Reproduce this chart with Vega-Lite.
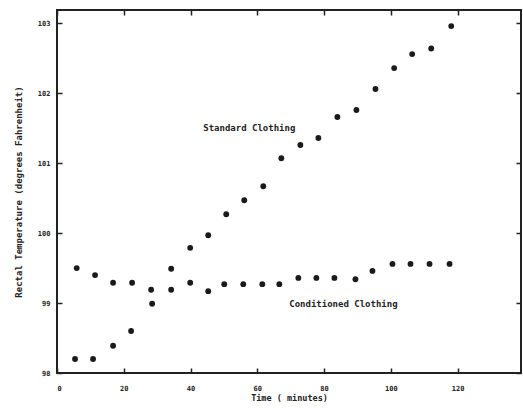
{
  "$schema": "https://vega.github.io/schema/vega-lite/v6.json",
  "width": 464,
  "height": 363,
  "autosize": {"type": "none"},
  "padding": {"left": 57, "top": 10, "right": 2, "bottom": 43},
  "background": "white",
  "config": {
    "view": {"stroke": "#222", "strokeWidth": 2},
    "axis": {"grid": false, "domain": false, "tickColor": "#222", "tickWidth": 1.5, "labelColor": "#222", "titleColor": "#222", "labelFont": "DejaVu Sans Mono", "titleFont": "DejaVu Sans Mono", "labelFontWeight": "bold", "titleFontWeight": "bold"}
  },
  "datasets": {
    "pts": [
      {"t": 5.4, "temp": 98.2, "group": "Standard Clothing"},
      {"t": 10.8, "temp": 98.2, "group": "Standard Clothing"},
      {"t": 16.8, "temp": 98.39, "group": "Standard Clothing"},
      {"t": 22.2, "temp": 98.6, "group": "Standard Clothing"},
      {"t": 28.5, "temp": 98.99, "group": "Standard Clothing"},
      {"t": 34.2, "temp": 99.49, "group": "Standard Clothing"},
      {"t": 39.9, "temp": 99.79, "group": "Standard Clothing"},
      {"t": 45.3, "temp": 99.97, "group": "Standard Clothing"},
      {"t": 50.7, "temp": 100.27, "group": "Standard Clothing"},
      {"t": 56.1, "temp": 100.47, "group": "Standard Clothing"},
      {"t": 61.8, "temp": 100.67, "group": "Standard Clothing"},
      {"t": 67.2, "temp": 101.07, "group": "Standard Clothing"},
      {"t": 72.9, "temp": 101.26, "group": "Standard Clothing"},
      {"t": 78.3, "temp": 101.36, "group": "Standard Clothing"},
      {"t": 84.0, "temp": 101.66, "group": "Standard Clothing"},
      {"t": 89.7, "temp": 101.76, "group": "Standard Clothing"},
      {"t": 95.4, "temp": 102.06, "group": "Standard Clothing"},
      {"t": 101.0, "temp": 102.36, "group": "Standard Clothing"},
      {"t": 106.4, "temp": 102.56, "group": "Standard Clothing"},
      {"t": 112.1, "temp": 102.64, "group": "Standard Clothing"},
      {"t": 118.1, "temp": 102.96, "group": "Standard Clothing"},
      {"t": 5.9, "temp": 99.5, "group": "Conditioned Clothing"},
      {"t": 11.4, "temp": 99.4, "group": "Conditioned Clothing"},
      {"t": 16.8, "temp": 99.29, "group": "Conditioned Clothing"},
      {"t": 22.5, "temp": 99.29, "group": "Conditioned Clothing"},
      {"t": 28.2, "temp": 99.19, "group": "Conditioned Clothing"},
      {"t": 34.2, "temp": 99.19, "group": "Conditioned Clothing"},
      {"t": 39.9, "temp": 99.29, "group": "Conditioned Clothing"},
      {"t": 45.3, "temp": 99.17, "group": "Conditioned Clothing"},
      {"t": 50.1, "temp": 99.27, "group": "Conditioned Clothing"},
      {"t": 55.8, "temp": 99.27, "group": "Conditioned Clothing"},
      {"t": 61.5, "temp": 99.27, "group": "Conditioned Clothing"},
      {"t": 66.6, "temp": 99.27, "group": "Conditioned Clothing"},
      {"t": 72.3, "temp": 99.36, "group": "Conditioned Clothing"},
      {"t": 77.7, "temp": 99.36, "group": "Conditioned Clothing"},
      {"t": 83.1, "temp": 99.36, "group": "Conditioned Clothing"},
      {"t": 89.4, "temp": 99.34, "group": "Conditioned Clothing"},
      {"t": 94.5, "temp": 99.46, "group": "Conditioned Clothing"},
      {"t": 100.5, "temp": 99.56, "group": "Conditioned Clothing"},
      {"t": 105.9, "temp": 99.56, "group": "Conditioned Clothing"},
      {"t": 111.6, "temp": 99.56, "group": "Conditioned Clothing"},
      {"t": 117.6, "temp": 99.56, "group": "Conditioned Clothing"}
    ],
    "labels": [
      {"t": 57.6, "temp": 101.5, "label": "Standard Clothing"},
      {"t": 85.8, "temp": 98.99, "label": "Conditioned Clothing"}
    ]
  },
  "layer": [
    {
      "data": {"name": "pts"},
      "mark": {"type": "circle", "size": 34, "color": "#1a1a1a", "opacity": 1},
      "encoding": {
        "x": {"field": "t", "type": "quantitative", "scale": {"domain": [0, 139], "nice": false, "zero": false},
          "axis": {"orient": "bottom", "title": "Time ( minutes)", "values": [0, 20, 40, 60, 80, 100, 120], "tickSize": -5, "labelPadding": 16, "labelFontSize": 7, "titleFontSize": 8.5, "titlePadding": 2}},
        "y": {"field": "temp", "type": "quantitative", "scale": {"domain": [98, 103.19], "nice": false, "zero": false},
          "axis": {"orient": "left", "title": "Rectal Temperature (degrees Fahrenheit)", "values": [98, 99, 100, 101, 102, 103], "tickSize": -5, "labelPadding": 12, "labelFontSize": 7, "titleFontSize": 9, "titlePadding": 14}}
      }
    },
    {
      "data": {"name": "pts"},
      "mark": {"type": "circle", "opacity": 0},
      "encoding": {
        "x": {"field": "t", "type": "quantitative", "axis": {"orient": "top", "title": null, "labels": false, "values": [0, 20, 40, 60, 80, 100, 120], "tickSize": -5}},
        "y": {"field": "temp", "type": "quantitative", "axis": {"orient": "right", "title": null, "labels": false, "values": [98, 99, 100, 101, 102, 103], "tickSize": -5}}
      }
    },
    {
      "data": {"name": "labels"},
      "mark": {"type": "text", "font": "DejaVu Sans Mono", "fontWeight": "bold", "fontSize": 9, "color": "#222", "align": "center", "baseline": "middle"},
      "encoding": {
        "x": {"field": "t", "type": "quantitative", "axis": null},
        "y": {"field": "temp", "type": "quantitative", "axis": null},
        "text": {"field": "label", "type": "nominal"}
      }
    }
  ],
  "resolve": {"axis": {"x": "independent", "y": "independent"}}
}
